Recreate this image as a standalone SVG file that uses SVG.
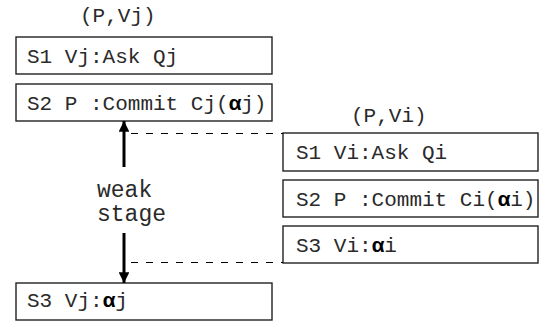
<svg xmlns="http://www.w3.org/2000/svg" width="540" height="322" viewBox="0 0 540 322">
<style>
.box{fill:#fff;stroke:#222;stroke-width:1.4}
.t{font-family:"Liberation Mono","DejaVu Sans Mono",monospace;font-size:21px;fill:#2a2a2a}
.a{font-weight:bold;fill:#000}
.dash{stroke:#000;stroke-width:1;stroke-dasharray:7 8;fill:none;shape-rendering:crispEdges}
.arr{stroke:#000;stroke-width:3;fill:none}
</style>
<defs>
<marker id="ah" viewBox="0 0 10 10" refX="10" refY="5" markerWidth="3.8" markerHeight="3.6" markerUnits="strokeWidth" orient="auto">
<path d="M0,0 L10,5 L0,10 z" fill="#000"/>
</marker>
</defs>
<rect width="540" height="322" fill="#fff"/>
<text class="t" x="80" y="22">(P,Vj)</text>
<text class="t" x="351" y="122">(P,Vi)</text>
<g id="L1"><rect class="box" x="16" y="37" width="256" height="37"/><text class="t" x="27" y="63">S1 Vj:Ask Qj</text></g>
<g id="L2"><rect class="box" x="16" y="84" width="256" height="37"/><text class="t" x="27" y="110">S2 P :Commit Cj(<tspan class="a">α</tspan>j)</text></g>
<g id="L3"><rect class="box" x="16" y="283" width="256" height="37"/><text class="t" x="27" y="307">S3 Vj:<tspan class="a">α</tspan>j</text></g>
<g id="R1"><rect class="box" x="283" y="133" width="255" height="38"/><text class="t" x="296" y="159">S1 Vi:Ask Qi</text></g>
<g id="R2"><rect class="box" x="283" y="180" width="255" height="37"/><text class="t" x="296" y="206">S2 P :Commit Ci(<tspan class="a">α</tspan>i)</text></g>
<g id="R3"><rect class="box" x="283" y="226" width="255" height="37"/><text class="t" x="296" y="252">S3 Vi:<tspan class="a">α</tspan>i</text></g>
<g id="label"><text class="t" x="97" y="197" style="font-size:23px">weak</text><text class="t" x="97" y="221" style="font-size:23px">stage</text></g>
<g id="connectors">
<line class="dash" x1="131" y1="133.5" x2="283" y2="133.5"/>
<line class="dash" x1="131" y1="262.5" x2="283" y2="262.5"/>
<line class="arr" x1="124" y1="167" x2="124" y2="121" marker-end="url(#ah)"/>
<line class="arr" x1="124" y1="233" x2="124" y2="283" marker-end="url(#ah)"/>
</g>
</svg>
